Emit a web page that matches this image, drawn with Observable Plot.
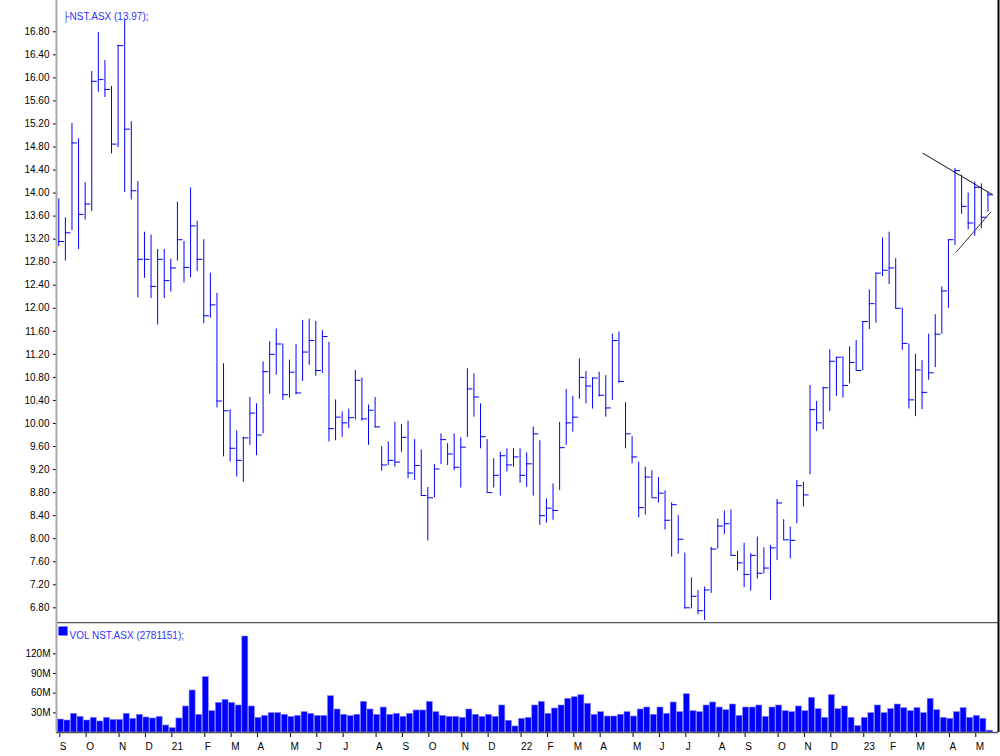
<!DOCTYPE html>
<html><head><meta charset="utf-8">
<script src="https://cdn.jsdelivr.net/npm/d3@7"></script>
<script src="https://cdn.jsdelivr.net/npm/@observablehq/plot@0.6"></script>
<style>
body{margin:0;background:#fff;}
#chart{position:relative;width:1000px;height:756px;overflow:hidden;background:#fff;}
#chart svg{position:absolute;left:0;}
</style></head><body><div id="chart"></div>
<script>
// Weekly bars (week ending Friday), NST.ASX, Sep 2020 - May 2023
const high = [13.90,13.57,15.21,14.94,14.18,16.11,16.79,16.30,15.85,16.57,17.01,15.24,14.20,13.32,13.27,13.02,13.02,12.85,13.84,13.16,
14.09,13.51,13.19,12.61,12.26,11.04,10.24,9.87,9.76,10.45,10.34,11.07,11.42,11.64,11.38,11.10,11.37,11.79,11.81,11.77,
11.61,11.41,10.41,10.20,10.25,10.92,10.79,10.32,10.45,9.60,9.68,10.02,9.98,10.04,9.72,9.54,8.89,9.29,9.82,9.65,
9.82,9.75,10.95,10.86,10.34,9.72,9.39,9.50,9.56,9.56,9.56,9.49,9.94,9.70,8.69,8.95,10.02,10.59,10.47,11.12,
10.90,10.79,10.89,10.83,11.55,11.59,10.36,9.77,9.33,9.24,9.18,9.06,8.83,8.62,8.40,7.75,7.32,7.10,7.16,7.85,
8.34,8.48,8.50,7.78,7.92,7.74,8.03,7.84,7.88,8.68,8.33,8.20,9.01,8.98,10.66,10.38,10.63,11.28,11.15,11.16,
11.33,11.44,11.77,12.32,12.61,13.22,13.32,12.86,12.00,11.38,11.20,11.09,11.55,11.89,12.37,13.19,14.43,14.31,14.00,14.19,
14.16,14.02];
const low = [13.07,12.82,13.35,13.02,13.53,13.68,15.75,15.66,14.68,14.79,14.01,13.88,12.18,12.52,12.17,11.71,12.17,12.28,12.82,12.44,
12.53,12.64,11.73,11.83,10.27,9.42,9.33,9.07,8.98,9.62,9.44,9.82,10.51,10.84,10.40,10.44,10.50,10.73,11.01,10.82,
10.87,9.68,9.70,9.76,9.91,10.06,10.04,9.62,9.92,9.17,9.27,9.24,9.50,9.04,9.01,8.75,7.96,8.71,9.29,9.27,
9.18,8.88,9.76,10.11,9.56,8.80,8.88,8.74,9.16,9.24,8.96,8.89,8.74,8.23,8.27,8.32,8.84,9.62,9.85,10.42,
10.34,10.25,10.46,10.11,10.40,10.70,9.56,9.30,8.36,8.41,8.71,8.62,8.15,7.68,7.73,6.78,6.78,6.68,6.58,7.05,
7.82,8.07,7.71,7.44,7.15,7.09,7.30,7.39,6.93,7.62,7.97,7.65,8.26,8.55,9.11,9.86,9.89,10.21,10.47,10.44,
10.69,10.92,10.92,11.63,11.74,12.55,12.41,11.99,11.27,10.25,10.12,10.24,10.75,10.97,11.55,12.00,13.09,13.63,13.36,13.25,
13.38,13.67];
const close = [13.16,13.31,14.87,13.63,13.81,15.94,15.97,15.80,14.85,16.56,15.11,14.04,12.85,12.85,12.38,12.85,12.48,12.70,13.19,12.71,
13.43,12.85,11.87,12.06,10.39,10.22,9.57,9.36,9.75,10.18,9.80,10.90,11.20,11.38,10.50,10.89,10.53,11.24,11.44,10.92,
11.51,9.91,10.11,10.01,10.10,10.75,10.08,10.23,9.94,9.28,9.36,9.33,9.76,9.14,9.27,8.75,8.71,9.21,9.72,9.47,
9.24,9.59,10.60,10.46,9.77,8.80,9.10,9.44,9.28,9.42,9.10,9.30,9.82,8.40,8.53,8.49,9.58,10.01,10.11,10.80,
10.65,10.79,10.49,10.27,11.44,10.73,9.82,9.42,8.54,9.07,8.71,8.79,8.32,8.59,7.99,6.80,7.00,6.75,7.11,7.82,
8.22,8.26,7.71,7.58,7.38,7.71,7.40,7.49,7.84,8.62,7.98,7.97,8.92,8.76,10.24,10.01,10.62,11.08,11.15,10.66,
11.06,10.92,11.77,12.08,12.61,12.66,12.70,12.00,11.39,10.41,10.93,10.54,10.88,11.55,12.30,13.19,14.39,13.77,13.48,14.10,
13.58,13.97];
// volume in millions of shares
const volume = [19.8,18.3,28.5,23.9,18.3,22.4,16.8,22.4,19.3,19.3,28.5,20.9,27.0,22.9,21.4,23.9,10.7,6.6,21.4,39.7,
64.1,27.0,84.4,32.5,45.2,49.8,45.2,41.2,146.4,39.7,22.4,25.4,29.5,29.5,27.0,23.9,25.4,31.0,28.5,25.4,
25.4,55.4,35.1,27.0,24.9,27.0,46.8,35.1,27.0,38.1,27.0,28.5,23.9,28.5,33.6,33.6,46.8,31.0,25.4,23.9,
23.9,22.4,35.1,27.0,23.9,27.0,23.9,41.2,17.8,9.2,20.9,22.4,41.2,46.8,28.5,36.6,41.2,51.4,53.8,56.9,
43.8,27.0,31.0,24.4,24.4,27.0,31.0,24.4,35.1,38.1,27.0,38.1,28.5,45.8,31.0,58.4,32.5,31.0,41.2,45.8,
38.1,34.0,42.7,25.4,38.1,38.1,41.2,23.9,38.1,41.2,32.5,31.0,39.7,32.5,52.9,35.6,22.4,56.9,35.6,39.7,
22.4,9.7,22.4,29.5,41.2,29.5,35.6,42.7,37.1,32.5,37.1,29.5,51.4,34.0,22.4,20.9,31.0,37.1,22.4,25.4,
20.9,2.78];
const priceTicks = [6.8,7.2,7.6,8.0,8.4,8.8,9.2,9.6,10.0,10.4,10.8,11.2,11.6,12.0,12.4,12.8,13.2,13.6,14.0,14.4,14.8,15.2,15.6,16.0,16.4,16.8];
const volTicks = [30,60,90,120];
const monthLabels = ["S","O","N","D","21","F","M","A","M","J","J","A","S","O","N","D","22","F","M","A","M","J","J","A","S","O","N","D","23","F","M","A","M"];
const trendUpper = [{date:"2023-03-11T00:00Z", price:14.69},{date:"2023-05-23T00:00Z", price:13.98}];
const trendLower = [{date:"2023-04-15T00:00Z", price:12.97},{date:"2023-05-22T00:00Z", price:13.67}];
const priceLegend = "├NST.ASX (13.97);";
const volLegend = "VOL NST.ASX (2781151);";

const DAY = 864e5, WEEK = 7*DAY;
const weeks = d3.utcFriday.range(new Date(Date.UTC(2020,8,4)), new Date(Date.UTC(2023,4,20)));
const bars = high.map((h,i)=>({date: weeks[i], high: h, low: low[i], close: close[i], vol: volume[i]}));
const monthStarts = weeks.filter((d,i)=> i===0 || d.getUTCMonth() !== weeks[i-1].getUTCMonth());
const tu = trendUpper.map(d=>({date:new Date(d.date), price:d.price}));
const tl = trendLower.map(d=>({date:new Date(d.date), price:d.price}));

const xDomain = [new Date(+weeks[0] - 0.349*WEEK), new Date(+weeks[0] + 142.6*WEEK)];
const font = {fontFamily:"'Liberation Sans', Arial, sans-serif", fontSize:"10px", background:"#fff", color:"#000"};
const BLUE = "#0000ff";

const price = Plot.plot({
  width:1000, height:622, marginLeft:56, marginRight:2, marginTop:0, marginBottom:0,
  style: font,
  x: {type:"utc", domain:xDomain, axis:null},
  y: {domain:[6.545, 17.343], axis:null},
  marks: [
    Plot.axisY(priceTicks, {tickSize:3, tickPadding:4, label:null, tickFormat:d=>d.toFixed(2), stroke:"#000", fill:"#000"}),
    Plot.ruleX(bars, {x:"date", y1:"low", y2:"high", stroke:BLUE, strokeWidth:1}),
    Plot.ruleY(bars, {y:"close", x1:"date", x2:d=>new Date(+d.date + 6*DAY), stroke:BLUE, strokeWidth:1}),
    Plot.line(tu, {x:"date", y:"price", stroke:"#111", strokeWidth:1, clip:true}),
    Plot.line(tl, {x:"date", y:"price", stroke:"#333", strokeWidth:1, clip:true}),
    Plot.ruleX([xDomain[0]], {stroke:"#a8a8a8", strokeWidth:2}),
    Plot.ruleX([xDomain[1]], {stroke:"#000", strokeWidth:2}),
    Plot.text([priceLegend], {frameAnchor:"top-left", dx:6, dy:12, textAnchor:"start", fill:"#3232ff", fontSize:10})
  ]
});
price.style.top = "0px";

const vol = Plot.plot({
  width:1000, height:134, marginLeft:56, marginRight:2, marginTop:0, marginBottom:24,
  style: font,
  x: {type:"utc", domain:xDomain, axis:null},
  y: {domain:[0, 167.8], axis:null},
  marks: [
    Plot.rect(bars, {x1:"date", x2:d=>new Date(+d.date + WEEK), y1:0, y2:"vol", insetLeft:-1, insetRight:1.6, fill:BLUE, stroke:"#7d7dff", strokeWidth:0.6}),
    Plot.axisY(volTicks, {tickSize:3, tickPadding:3, label:null, tickFormat:d=>d+"M", stroke:"#000", fill:"#000"}),
    Plot.axisX(monthStarts, {tickSize:5, tickPadding:5, dx:1, label:null, textAnchor:"start", tickFormat:(d,i)=>monthLabels[i], stroke:"#000", fill:"#000"}),
    Plot.ruleY([0], {stroke:"#555", strokeWidth:1.5}),
    Plot.ruleY([167.8], {stroke:"#555", strokeWidth:1.5}),
    Plot.ruleX([xDomain[0]], {stroke:"#a8a8a8", strokeWidth:2}),
    Plot.ruleX([xDomain[1]], {stroke:"#000", strokeWidth:2}),
    Plot.dot([volLegend], {frameAnchor:"top-left", dx:6.5, dy:8.5, symbol:"square", r:5.08, fill:BLUE, stroke:null}),
    Plot.text([volLegend], {frameAnchor:"top-left", dx:13, dy:9, textAnchor:"start", fill:"#3232ff", fontSize:10})
  ]
});
vol.style.top = "622px";

const chart = document.getElementById("chart");
chart.appendChild(price);
chart.appendChild(vol);
</script></body></html>
